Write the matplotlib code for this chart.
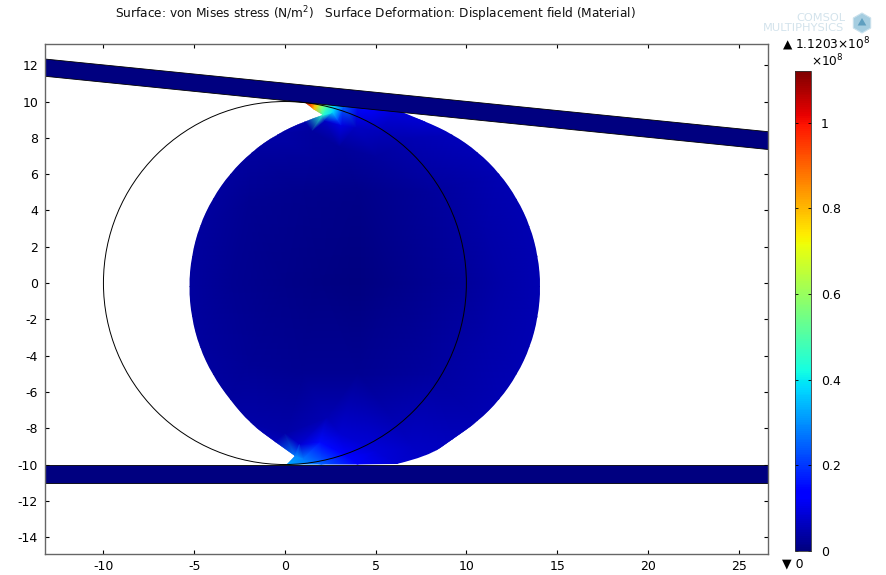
import numpy as np
import matplotlib
matplotlib.use('Agg')
import matplotlib.pyplot as plt
from matplotlib.patches import Polygon, Circle, RegularPolygon
from matplotlib.path import Path
from matplotlib.tri import Triangulation

plt.rcParams['axes.unicode_minus'] = False

# Outline of the deformed disc (m), with the stress
# estimated from the colours along it (1e8 N/m^2)
outline_x = [1.1, 1.6, 2.09, 1.08, -0.45, -1.84, -3.03, -4.0, -4.72, -5.15, -5.3,
             -5.15, -4.72, -4.0, -3.03, -1.9, -0.55, 0.55, 0.1, 2.0, 4.0, 6.17,
             7.9, 9.25, 10.64, 11.83, 12.8, 13.52, 13.95, 14.1, 13.95, 13.52,
             12.8, 11.83, 10.64, 9.25, 7.72, 6.0, 4.0]
outline_y = [9.95, 9.56, 9.26, 8.92, 8.2, 7.23, 6.04, 4.65, 3.12, 1.48, -0.2,
             -1.88, -3.52, -5.05, -6.44, -7.75, -8.75, -9.53, -10.0, -10.0, -10.0, -9.97,
             -9.55, -8.6, -7.63, -6.44, -5.05, -3.52, -1.88, -0.2, 1.48, 3.12,
             4.65, 6.04, 7.23, 8.2, 8.92, 9.6, 9.9]
outline_s = [1.05, 0.8, 0.45, 0.05, 0.04, 0.035, 0.035, 0.035, 0.035, 0.035, 0.035,
             0.035, 0.035, 0.035, 0.035, 0.04, 0.06, 0.28, 0.33, 0.25, 0.13, 0.08,
             0.07, 0.06, 0.05, 0.05, 0.05, 0.05, 0.05, 0.05, 0.05, 0.05,
             0.05, 0.05, 0.055, 0.06, 0.08, 0.1, 0.15]
# Outline points that are sharp corners, the rest of the edge is a smooth curve
corners = [0, 1, 2, 17, 18, 19, 20, 21, 37, 38]

# Stress at points inside the disc, estimated from the colours (1e8 N/m^2)
inner_x = [1.4, 1.65, 1.93, 2.3, 2.65, 3.2, 4.5, 6.0, 2.65, 2.9, 3.1, 2.2, 3.9, 5.2, 7.0, 1.5,
           3.0, 5.0, 1.5,
           1.0, 0.66, 1.93, 2.3, 3.0, 3.5, 5.0, 7.0, 0.8, 0.0,
           -3.0, 0.0, 2.0, 4.0, 6.0, 8.0, 10.0, 12.0,
           -2.0, 1.0, 4.0, 8.0, 11.0, -2.0, 1.0, 4.0, 8.0, 11.0]
inner_y = [9.92, 9.89, 9.86, 9.82, 9.78, 9.72, 9.58, 9.4, 9.4, 9.0, 8.7, 8.95, 8.6, 8.4, 8.0, 8.4,
           7.5, 7.0, 7.0,
           -9.7, -9.6, -8.8, -7.4, -8.3, -9.6, -9.3, -9.0, -8.9, -8.3,
           0.0, 0.0, 0.0, 0.0, 0.0, 0.0, 0.0, 0.0,
           4.5, 5.0, 5.0, 5.0, 3.0, -4.5, -5.0, -5.0, -5.0, -3.0]
inner_s = [0.95, 0.8, 0.65, 0.5, 0.38, 0.25, 0.13, 0.09, 0.38, 0.22, 0.1, 0.07, 0.07, 0.06, 0.05, 0.035,
           0.03, 0.035, 0.03,
           0.28, 0.3, 0.15, 0.05, 0.08, 0.14, 0.09, 0.07, 0.08, 0.04,
           0.02, 0.012, 0.006, 0.004, 0.01, 0.02, 0.03, 0.04,
           0.02, 0.015, 0.012, 0.03, 0.04, 0.025, 0.02, 0.02, 0.035, 0.04]

# Upper and lower plates
upper_x = [-13.3, 26.7, 26.7, -13.3]
upper_y = [12.35, 8.33, 7.35, 11.4]
lower_x = [-13.3, 26.7, 26.7, -13.3]
lower_y = [-10.0, -10.0, -11.0, -11.0]

x_ticks = [-10, -5, 0, 5, 10, 15, 20, 25]
y_ticks = [12, 10, 8, 6, 4, 2, 0, -2, -4, -6, -8, -10, -12, -14]
cbar_ticks = [0, 0.2, 0.4, 0.6, 0.8, 1]
cbar_labels = ['0', '0.2', '0.4', '0.6', '0.8', '1']
s_max = 1.1203


def smooth_outline(xs, ys, sharp):
    # quadratic curve through the midpoints, straight at the sharp points
    pts = list(zip(xs, ys))
    verts = [pts[0]]
    codes = [Path.MOVETO]
    n = len(pts)
    for i in range(1, n):
        if i in sharp:
            verts.append(pts[i])
            codes.append(Path.LINETO)
        else:
            nxt = pts[(i + 1) % n]
            end = nxt if (i + 1) in sharp else ((pts[i][0] + nxt[0]) / 2, (pts[i][1] + nxt[1]) / 2)
            verts += [pts[i], end]
            codes += [Path.CURVE3, Path.CURVE3]
    verts.append(pts[0])
    codes.append(Path.CLOSEPOLY)
    return Path(verts, codes)


W, H = 887.0, 575.0
fig = plt.figure(figsize=(W / 100, H / 100), dpi=100)
ax = fig.add_axes([45 / W, 1 - 554 / H, 723 / W, 510 / H])

tri = Triangulation(outline_x + inner_x, outline_y + inner_y)
mesh = ax.tripcolor(tri, outline_s + inner_s, shading='gouraud', cmap='jet', vmin=0, vmax=s_max, zorder=1)
mesh.set_clip_path(smooth_outline(outline_x, outline_y, corners), ax.transData)

navy = plt.get_cmap('jet')(0.0)
for px, py in [(upper_x, upper_y), (lower_x, lower_y)]:
    ax.add_patch(Polygon(np.column_stack([px, py]), closed=True, facecolor=navy,
                         edgecolor='black', linewidth=0.6, zorder=2))
ax.add_patch(Circle((0, 0), 10, fill=False, edgecolor='black', linewidth=0.7, zorder=3))

ax.set_xlim(-13.22, 26.62)
ax.set_ylim(-14.93, 13.17)
ax.set_xticks(x_ticks)
ax.set_yticks(y_ticks)
ax.set_axisbelow(True)
ax.tick_params(direction='in', length=3, width=0.8, labelsize=9, top=True, right=True)
ax.tick_params(axis='x', pad=4)
ax.tick_params(axis='y', pad=5)
for spine in ax.spines.values():
    spine.set_color('#666666')
    spine.set_linewidth(1.0)

# Colour bar
cax = fig.add_axes([795 / W, 1 - 551 / H, 16 / W, 480 / H])
cbar = fig.colorbar(mesh, cax=cax)
cbar.set_ticks(cbar_ticks)
cbar.set_ticklabels(cbar_labels)
cax.tick_params(direction='in', length=2, width=0.6, labelsize=9, left=True, right=True, pad=7)
cbar.outline.set_linewidth(0.6)
cbar.outline.set_edgecolor('#333333')

# Texts around the plot
fig.text(375.5 / W, 1 - 14 / H, 'Surface: von Mises stress (N/m$^2$)   Surface Deformation: Displacement field (Material)',
         ha='center', va='center', fontsize=8.72, color='#111111')
fig.text(782 / W, 1 - 44 / H, '\u25b2 1.1203\u00d710$^8$', ha='left', va='center', fontsize=8.7)
fig.text(811 / W, 1 - 61 / H, '\u00d710$^8$', ha='left', va='center', fontsize=8.7)
fig.text(782 / W, 1 - 564 / H, '\u25bc 0', ha='left', va='center', fontsize=9)

# Faded logo
fig.text(821 / W, 1 - 18 / H, 'COMSOL', ha='center', va='center', fontsize=8.2, color='#d3e3ec')
fig.text(804 / W, 1 - 28 / H, 'MULTIPHYSICS', ha='center', va='center', fontsize=8.2, color='#d3e3ec')
fig.add_artist(RegularPolygon((862, H - 23), 6, radius=10, facecolor='#a5cde0', edgecolor='#c8e0ec',
                              linewidth=0.8, transform=None))
fig.add_artist(RegularPolygon((862, H - 23), 3, radius=5, facecolor='#5f9fc0', edgecolor='none',
                              transform=None))

fig.savefig('out.png', dpi=100)
plt.close(fig)
